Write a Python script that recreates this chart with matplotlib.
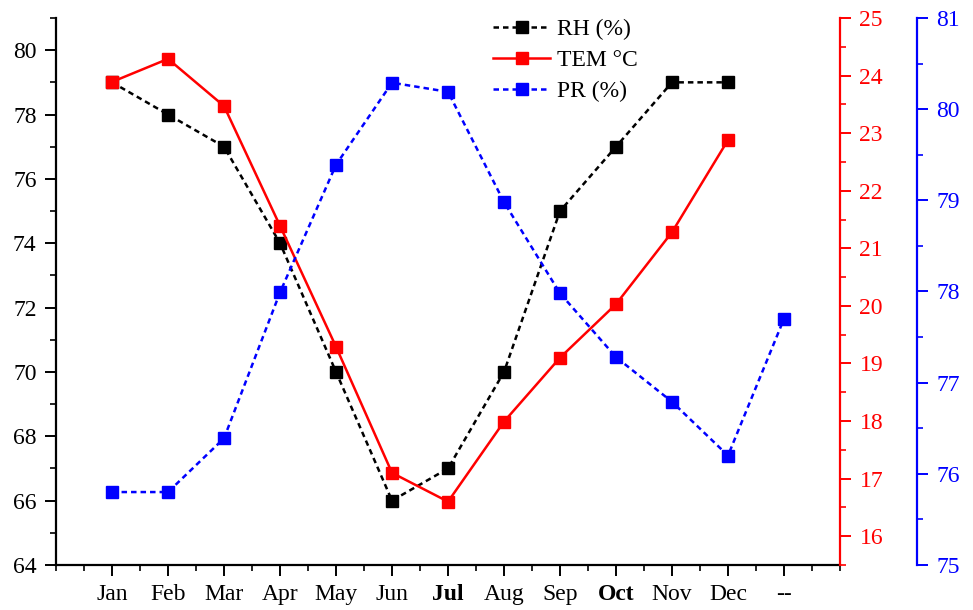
import matplotlib.pyplot as plt
from matplotlib.ticker import MultipleLocator

plt.rcParams["font.family"] = ["Liberation Serif", "DejaVu Serif"]

months = ["Jan", "Feb", "Mar", "Apr", "May", "Jun", "Jul", "Aug", "Sep", "Oct", "Nov", "Dec", "--"]
rh = [79, 78, 77, 74, 70, 66, 67, 70, 75, 77, 79, 79]
tem = [23.89, 24.29, 23.47, 21.39, 19.29, 17.10, 16.60, 17.99, 19.10, 20.03, 21.28, 22.88]
pr = [75.80, 75.80, 76.39, 77.99, 79.39, 80.29, 80.19, 78.98, 77.98, 77.28, 76.79, 76.20, 77.70]

x_all = list(range(1, len(months) + 1))

fig = plt.figure(figsize=(9.73, 6.10), dpi=100)
ax = fig.add_axes([0.0576, 0.0738, 0.8057, 0.8967])
ax2 = ax.twinx()
ax3 = ax.twinx()

ms = 8.5
lw = 1.8
fs = 17

l1, = ax.plot(x_all[:len(rh)], rh, color="black", ls=(0, (2.2, 1.6)), lw=lw,
              marker="s", ms=ms, label="RH (%)")
l2, = ax2.plot(x_all[:len(tem)], tem, color="red", ls="-", lw=lw,
               marker="s", ms=ms, label="TEM °C")
l3, = ax3.plot(x_all, pr, color="blue", ls=(0, (2.2, 1.6)), lw=lw,
               marker="s", ms=ms, label="PR (%)")

ax.set_xlim(0, 14)
ax.set_ylim(64, 81)
ax2.set_ylim(15.5, 25)
ax3.set_ylim(75, 81)

ax.set_xticks(x_all)
ax.set_xticklabels(months)
for lab in ax.get_xticklabels():
    if lab.get_text() in ("Jul", "Oct"):
        lab.set_fontweight("bold")
ax.xaxis.set_minor_locator(MultipleLocator(0.5))
ax.yaxis.set_major_locator(MultipleLocator(2))
ax.yaxis.set_minor_locator(MultipleLocator(1))
ax2.yaxis.set_major_locator(MultipleLocator(1))
ax2.yaxis.set_minor_locator(MultipleLocator(0.5))
ax3.yaxis.set_major_locator(MultipleLocator(1))
ax3.yaxis.set_minor_locator(MultipleLocator(0.5))

# spines
for a in (ax, ax2, ax3):
    a.spines["top"].set_visible(False)
ax.spines["right"].set_visible(False)
ax2.spines["left"].set_visible(False)
ax3.spines["left"].set_visible(False)
ax2.spines["bottom"].set_visible(False)
ax3.spines["bottom"].set_visible(False)
ax3.spines["right"].set_position(("axes", 1.098))

for s in ("left", "bottom"):
    ax.spines[s].set_linewidth(1.6)
ax2.spines["right"].set_color("red")
ax2.spines["right"].set_linewidth(1.6)
ax3.spines["right"].set_color("blue")
ax3.spines["right"].set_linewidth(1.6)

ax.tick_params(axis="both", which="major", direction="out", length=8, width=1.4,
               labelsize=fs, colors="black")
ax.tick_params(axis="both", which="minor", direction="out", length=4, width=1.2)
ax.tick_params(axis="x", which="major", pad=6)
ax.tick_params(axis="y", which="major", pad=6)
ax2.tick_params(axis="y", which="major", length=8, width=1.4, colors="red",
                labelsize=fs, pad=6)
ax2.tick_params(axis="y", which="minor", length=4, width=1.2, colors="red")
ax3.tick_params(axis="y", which="major", length=8, width=1.4, colors="blue",
                labelsize=fs, pad=6)
ax3.tick_params(axis="y", which="minor", length=4, width=1.2, colors="blue")

fig.legend(handles=[l1, l2, l3], loc="upper left", bbox_to_anchor=(0.507, 0.97),
           frameon=False, fontsize=fs, handlelength=2.4, handletextpad=0.3,
           labelspacing=0.4, borderaxespad=0, borderpad=0)

fig.savefig("out.png", dpi=100)
